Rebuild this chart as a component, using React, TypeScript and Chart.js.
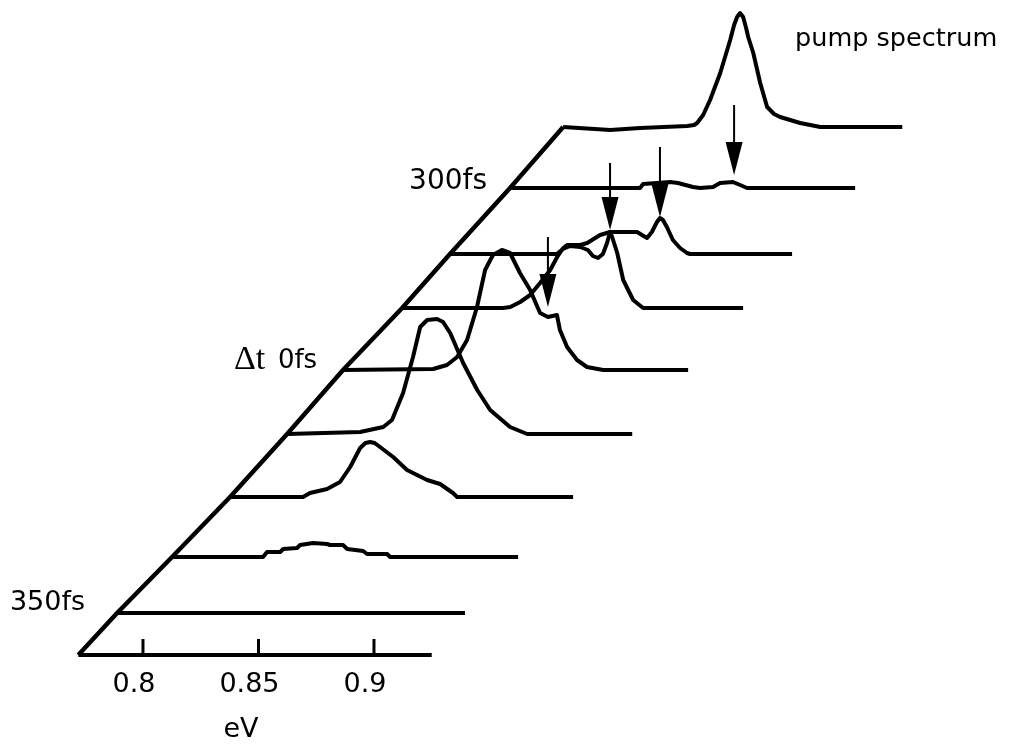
import React, { useEffect, useRef } from "react";
import { Chart, registerables } from "chart.js";

Chart.register(...registerables);

// ---------- data ----------
// Spectra: photon energy (eV) and intensity (a.u.), bottom (350fs) to top (pump spectrum)
const T1_E = [0.7719, 0.85, 0.9225];
const T1_I = [0, 0, 0];

const T2_E = [0.7719, 0.8113, 0.813, 0.8187, 0.82, 0.826, 0.8273, 0.8329, 0.839, 0.8403, 0.8459, 0.8477, 0.8546, 0.8563, 0.865, 0.8663, 0.9217];
const T2_I = [0, 0, 0.05, 0.05, 0.08, 0.09, 0.12, 0.14, 0.13, 0.12, 0.12, 0.08, 0.06, 0.03, 0.03, 0, 0];

const T3_E = [0.7719, 0.8035, 0.8065, 0.8139, 0.8195, 0.8239, 0.8282, 0.8305, 0.8325, 0.8345, 0.8368, 0.8425, 0.8485, 0.8572, 0.8628, 0.8684, 0.8702, 0.9204];
const T3_I = [0, 0, 0.04, 0.08, 0.15, 0.3, 0.49, 0.54, 0.55, 0.54, 0.5, 0.4, 0.27, 0.17, 0.13, 0.04, 0, 0];

const T4_E = [0.7719, 0.8035, 0.8135, 0.8173, 0.8221, 0.8264, 0.8295, 0.8325, 0.8368, 0.8394, 0.8425, 0.8481, 0.8542, 0.8598, 0.8684, 0.8758, 0.9213];
const T4_I = [0, 0.02, 0.07, 0.14, 0.41, 0.77, 1.07, 1.14, 1.15, 1.12, 1.01, 0.71, 0.44, 0.24, 0.07, 0, 0];

const T5_E = [0.7719, 0.8109, 0.8169, 0.8213, 0.8256, 0.8299, 0.8334, 0.8368, 0.8407, 0.8442, 0.8485, 0.8529, 0.8572, 0.8606, 0.8645, 0.8658, 0.8689, 0.8732, 0.8775, 0.8845, 0.9213];
const T5_I = [0, 0.01, 0.05, 0.13, 0.3, 0.63, 1.0, 1.15, 1.2, 1.17, 0.97, 0.8, 0.57, 0.53, 0.55, 0.4, 0.23, 0.1, 0.03, 0, 0];

const T6_E = [0.7719, 0.8156, 0.8187, 0.823, 0.8273, 0.8316, 0.836, 0.839, 0.8416, 0.8433, 0.849, 0.852, 0.8576, 0.8619, 0.8628, 0.865, 0.8676, 0.8719, 0.8762, 0.9195];
const T6_I = [0, 0, 0.01, 0.06, 0.13, 0.25, 0.38, 0.51, 0.6, 0.63, 0.63, 0.65, 0.73, 0.76, 0.71, 0.55, 0.28, 0.08, 0, 0];

const T7_E = [0.7719, 0.8182, 0.8208, 0.8239, 0.8282, 0.8316, 0.8338, 0.836, 0.8381, 0.8399, 0.8412, 0.8477, 0.8529, 0.855, 0.8572, 0.8593, 0.8615, 0.8628, 0.8641, 0.8658, 0.8684, 0.8715, 0.8745, 0.8758, 0.92];
const T7_I = [0, 0, 0.05, 0.08, 0.07, 0.04, -0.02, -0.04, 0, 0.11, 0.22, 0.22, 0.22, 0.19, 0.16, 0.22, 0.32, 0.36, 0.34, 0.27, 0.14, 0.06, 0.01, 0, 0];

const T8_E = [0.7719, 0.8282, 0.8295, 0.8355, 0.8412, 0.8446, 0.8511, 0.8542, 0.8598, 0.8628, 0.8684, 0.8715, 0.8745, 0.9213];
const T8_I = [0, 0, 0.04, 0.05, 0.06, 0.05, 0.01, 0, 0.01, 0.05, 0.06, 0.03, 0, 0];

const T9_E = [0.7719, 0.7923, 0.8052, 0.8256, 0.8286, 0.8299, 0.8325, 0.8355, 0.8399, 0.8442, 0.8459, 0.8472, 0.8485, 0.8498, 0.8511, 0.852, 0.8542, 0.8572, 0.8602, 0.8632, 0.8658, 0.8745, 0.8832, 0.9187];
const T9_I = [0, -0.03, -0.01, 0.01, 0.02, 0.04, 0.12, 0.27, 0.54, 0.87, 1.02, 1.1, 1.14, 1.1, 0.99, 0.9, 0.74, 0.44, 0.2, 0.13, 0.1, 0.04, 0, 0];

// Waterfall offsets of each spectrum (energy shift in eV, vertical shift in a.u.)
const TRACE_DX = [0.0169, 0.0407, 0.0658, 0.0905, 0.1147, 0.1403, 0.161, 0.187, 0.21];
const TRACE_DY = [0.42, 0.98, 1.58, 2.21, 2.85, 3.47, 4.01, 4.67, 5.28];

// Energy axis
const AXIS_E = [0.772, 0.925];
const TICK_VALUES = [0.8, 0.85, 0.9];
const TICK_LABELS = ["0.8", "0.85", "0.9"];
const AXIS_TITLE = "eV";

// Arrows: which spectrum, energy, tip and tail height above that spectrum's baseline
const ARROW_TRACE = [7, 6, 5, 4];
const ARROW_E = [0.8689, 0.8628, 0.8619, 0.8606];
const ARROW_TIP = [0.13, 0.37, 0.78, 0.63];
const ARROW_TOP = [0.83, 1.07, 1.45, 1.33];

const INK = "#000000";

const TRACES_E = [T1_E, T2_E, T3_E, T4_E, T5_E, T6_E, T7_E, T8_E, T9_E];
const TRACES_I = [T1_I, T2_I, T3_I, T4_I, T5_I, T6_I, T7_I, T8_I, T9_I];

// text annotations (data coordinates)
const ANNOTATIONS = [
  { text: "350fs", x: 0.7424, y: 0.45, font: "27px 'DejaVu Sans'", align: "left" },
  { text: "300fs", x: 0.9152, y: 4.66, font: "28px 'DejaVu Sans'", align: "left" },
  { text: "Δt", x: 0.8394, y: 2.86, font: "34px 'Liberation Serif'", align: "left" },
  { text: "0fs", x: 0.8584, y: 2.87, font: "26px 'DejaVu Sans'", align: "left" },
  { text: "pump spectrum", x: 1.0823, y: 6.09, font: "25.5px 'DejaVu Sans'", align: "left" },
];

const X_MIN = 0.7381;
const X_MAX = 1.1814;
const Y_MIN = -0.99;
const Y_MAX = 6.55;

const overlayPlugin = {
  id: "overlay",
  afterDatasetsDraw(chart: any) {
    const { ctx } = chart;
    const xs = chart.scales.x;
    const ys = chart.scales.y;
    ctx.save();
    ctx.fillStyle = INK;
    ctx.strokeStyle = INK;
    ctx.lineCap = "butt";

    // tick marks and labels
    TICK_VALUES.forEach((v, i) => {
      const px = xs.getPixelForValue(v);
      ctx.lineWidth = 3;
      ctx.beginPath();
      ctx.moveTo(px, ys.getPixelForValue(0));
      ctx.lineTo(px, ys.getPixelForValue(0.16));
      ctx.stroke();
      ctx.font = "27px 'DejaVu Sans'";
      ctx.textAlign = "center";
      ctx.textBaseline = "alphabetic";
      ctx.fillText(TICK_LABELS[i], px - 9, ys.getPixelForValue(-0.37));
    });
    ctx.font = "27px 'DejaVu Sans'";
    ctx.textAlign = "center";
    ctx.fillText(AXIS_TITLE, xs.getPixelForValue(0.8424), ys.getPixelForValue(-0.82));

    // arrows
    ARROW_E.forEach((e, k) => {
      const t = ARROW_TRACE[k];
      const px = xs.getPixelForValue(e + TRACE_DX[t]);
      const tip = ys.getPixelForValue(ARROW_TIP[k] + TRACE_DY[t]);
      const top = ys.getPixelForValue(ARROW_TOP[k] + TRACE_DY[t]);
      ctx.lineWidth = 2;
      ctx.beginPath();
      ctx.moveTo(px, top);
      ctx.lineTo(px, tip - 20);
      ctx.stroke();
      ctx.beginPath();
      ctx.moveTo(px - 8.5, tip - 33);
      ctx.lineTo(px + 8.5, tip - 33);
      ctx.lineTo(px, tip);
      ctx.closePath();
      ctx.fill();
    });

    // annotations
    ctx.textBaseline = "alphabetic";
    ANNOTATIONS.forEach((a) => {
      ctx.font = a.font;
      ctx.textAlign = a.align;
      ctx.fillText(a.text, xs.getPixelForValue(a.x), ys.getPixelForValue(a.y));
    });
    ctx.restore();
  },
};

export default function App() {
  const canvasRef = useRef<HTMLCanvasElement | null>(null);

  useEffect(() => {
    const canvas = canvasRef.current;
    if (!canvas) return;

    const traceSets = TRACES_E.map((E, i) => ({
      label: `spectrum ${i + 1}`,
      data: E.map((e, j) => ({ x: e + TRACE_DX[i], y: TRACES_I[i][j] + TRACE_DY[i] })),
      borderColor: INK,
      borderWidth: 4,
      pointRadius: 0,
      tension: 0,
      fill: false,
      borderJoinStyle: "round" as const,
      borderCapStyle: "butt" as const,
    }));

    const diagonal = {
      label: "delay axis",
      data: [{ x: AXIS_E[0], y: 0 }].concat(
        TRACE_DX.map((dx, i) => ({ x: TRACES_E[i][0] + dx, y: TRACE_DY[i] }))
      ),
      borderColor: INK,
      borderWidth: 4.5,
      pointRadius: 0,
      tension: 0,
      fill: false,
      borderJoinStyle: "round" as const,
    };

    const axis = {
      label: "energy axis",
      data: AXIS_E.map((e) => ({ x: e, y: 0 })),
      borderColor: INK,
      borderWidth: 4,
      pointRadius: 0,
      fill: false,
    };

    const chart = new Chart(canvas, {
      type: "line",
      data: { datasets: [axis, diagonal, ...traceSets] as any },
      options: {
        responsive: false,
        maintainAspectRatio: false,
        devicePixelRatio: 1,
        animation: false,
        layout: { padding: 0 },
        plugins: { legend: { display: false }, tooltip: { enabled: false } },
        scales: {
          x: { type: "linear", display: false, min: X_MIN, max: X_MAX },
          y: { type: "linear", display: false, min: Y_MIN, max: Y_MAX },
        },
      },
      plugins: [overlayPlugin],
    });
    return () => chart.destroy();
  }, []);

  return (
    <div style={{ position: "fixed", left: 0, top: 0, width: 1024, height: 754, background: "#ffffff" }}>
      <canvas ref={canvasRef} width={1024} height={754} style={{ display: "block" }} />
    </div>
  );
}
